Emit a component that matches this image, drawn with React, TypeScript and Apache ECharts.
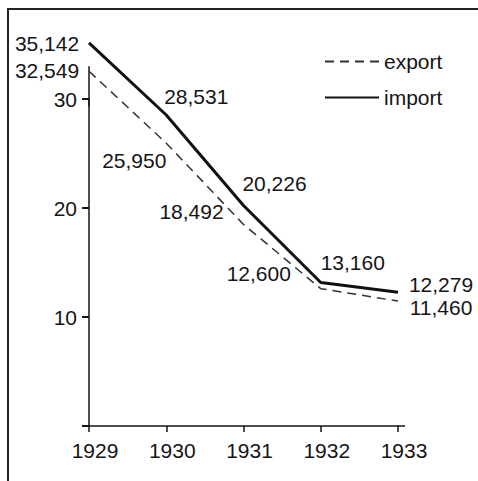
import React, { useEffect, useRef } from "react";
import * as echarts from "echarts";

const years = ["1929", "1930", "1931", "1932", "1933"];
const importValues = [35.142, 28.531, 20.226, 13.16, 12.279];
const exportValues = [32.549, 25.95, 18.492, 12.6, 11.46];
const importLabels = ["35,142", "28,531", "20,226", "13,160", "12,279"];
const exportLabels = ["32,549", "25,950", "18,492", "12,600", "11,460"];
const yTickLabels = [10, 20, 30];
const yTickMarks = [0, 10, 20, 30];
const yAxisTop = 33;

// label offsets (style only)
const importOffsets = [[-42, 1], [30, -19], [31, -22], [32, -20], [43, -8]];
const exportOffsets = [[-42, -1], [-32, 17], [-52, -13], [-62, -15], [43, 6]];

const FONT = "'Liberation Sans', Arial, Helvetica, sans-serif";
const FS = 21;
const INK = "#151515";

export default function App() {
  const ref = useRef<HTMLDivElement>(null);
  useEffect(() => {
    if (!ref.current) return;
    const chart = echarts.init(ref.current, null, { renderer: "svg" });
    const mk = (vals: number[], labels: string[], offs: number[][]) =>
      vals.map((v, i) => ({
        value: v,
        label: {
          show: true,
          position: "inside",
          align: "center",
          verticalAlign: "middle",
          offset: offs[i],
          formatter: labels[i],
          fontFamily: FONT,
          fontSize: FS,
          lineHeight: 21,
          color: INK,
        },
      }));
    chart.setOption({
      animation: false,
      backgroundColor: "#ffffff",
      textStyle: { fontFamily: FONT },
      legend: {
        orient: "vertical",
        left: 319,
        top: 46,
        itemWidth: 54,
        itemHeight: 14,
        itemGap: 15,
        itemStyle: { opacity: 0 },
        data: ["export", "import"],
        textStyle: { fontFamily: FONT, fontSize: FS, color: INK },
      },
      grid: { left: 89, right: 80, top: 99, bottom: 55 },
      xAxis: {
        type: "category",
        data: years,
        boundaryGap: false,
        axisLine: { lineStyle: { color: INK, width: 1.5 } },
        axisTick: { show: true, length: 6, lineStyle: { color: INK, width: 1.5 } },
        axisLabel: {
          fontFamily: FONT,
          fontSize: FS,
          color: INK,
          margin: 14,
          padding: [0, 0, 0, 12],
        },
      },
      yAxis: {
        type: "value",
        min: 0,
        max: 30,
        interval: 10,
        splitLine: { show: false },
        axisLine: { show: true, lineStyle: { color: INK, width: 1.5 } },
        axisTick: { show: true, length: 7, lineStyle: { color: INK, width: 2 } },
        axisLabel: {
          fontFamily: FONT,
          fontSize: FS,
          color: INK,
          margin: 12,
          formatter: (v: number) => (yTickLabels.indexOf(v) >= 0 ? String(v) : ""),
        },
      },
      series: [
        {
          name: "export",
          type: "line",
          data: mk(exportValues, exportLabels, exportOffsets),
          symbol: "circle",
          symbolSize: 0.01,
          clip: false,
          color: "#333",
          lineStyle: { color: "#333", width: 1.5, type: [9, 6] },
        },
        {
          name: "import",
          type: "line",
          data: mk(importValues, importLabels, importOffsets),
          symbol: "circle",
          symbolSize: 0.01,
          clip: false,
          color: "#111",
          lineStyle: { color: "#111", width: 3 },
        },
      ],
    });
    // frame, y ticks and axis-line extensions (decoration)
    const pTop = chart.convertToPixel({ gridIndex: 0 }, [0, yAxisTop]) as number[];
    const pZero = chart.convertToPixel({ gridIndex: 0 }, [years.length - 1, 0]) as number[];
    const tickEls = yTickMarks.map((t) => {
      const p = chart.convertToPixel({ gridIndex: 0 }, [0, t]) as number[];
      return {
        type: "rect",
        shape: { x: p[0] - 7, y: p[1] - 1, width: 7, height: 2 },
        style: { fill: INK },
        silent: true,
        z: 100,
      };
    });
    chart.setOption({
      graphic: [
        {
          type: "rect",
          shape: { x: 8, y: 9, width: 480, height: 480 },
          style: { fill: "none", stroke: "#222", lineWidth: 2 },
          silent: true,
        },
        {
          type: "line",
          shape: { x1: pTop[0], y1: pTop[1], x2: pTop[0], y2: pTop[1] + 40 },
          style: { stroke: INK, lineWidth: 1.5 },
          silent: true,
        },
        {
          type: "line",
          shape: { x1: pZero[0], y1: pZero[1], x2: pZero[0] + 7, y2: pZero[1] },
          style: { stroke: INK, lineWidth: 1.5 },
          silent: true,
        },
        ...tickEls,
      ],
    });
    return () => chart.dispose();
  }, []);
  return (
    <div
      ref={ref}
      style={{ position: "absolute", left: 0, top: 0, width: 478, height: 481 }}
    />
  );
}
